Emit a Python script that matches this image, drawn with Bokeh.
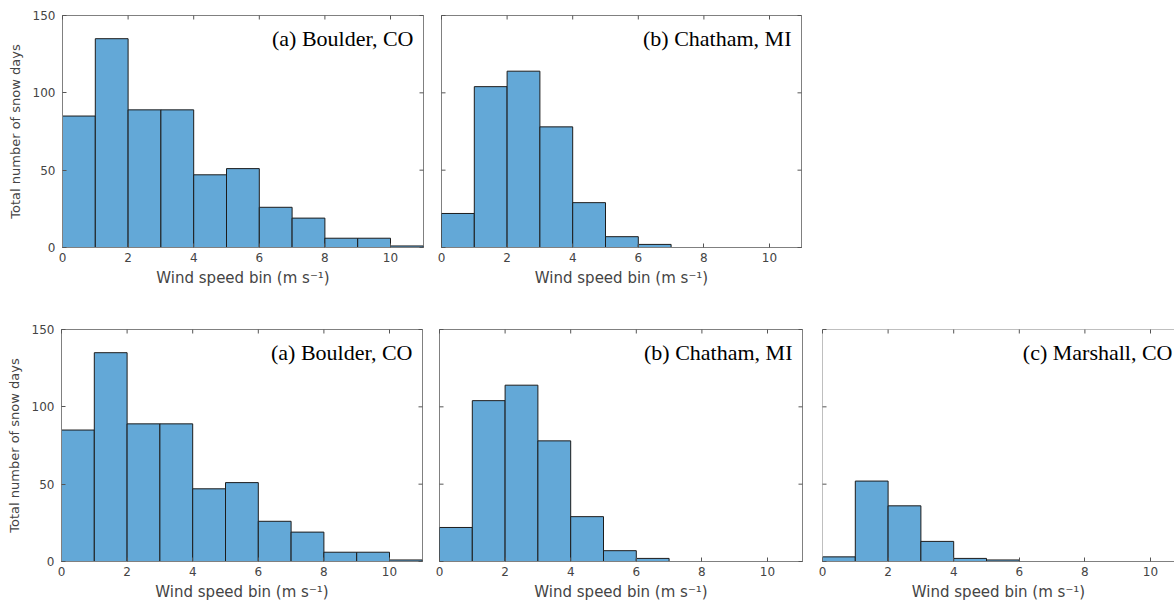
from bokeh.plotting import figure
from bokeh.models import Range1d, LinearAxis, FixedTicker, Label, Span
from bokeh.layouts import column, row
from bokeh.embed import file_html
from bokeh.resources import INLINE

# ---- data ----
bin_left = [0, 1, 2, 3, 4, 5, 6, 7, 8, 9, 10]
bin_width = 1
boulder = [85, 135, 89, 89, 47, 51, 26, 19, 6, 6, 1]
chatham = [22, 104, 114, 78, 29, 7, 2, 0, 0, 0, 0]
marshall = [3, 52, 36, 13, 2, 1, 0, 0, 0, 0, 0]
x_ticks = [0, 2, 4, 6, 8, 10]
y_ticks = [0, 50, 100, 150]
x_label = "Wind speed bin (m s\u207b\u00b9)"
y_label = "Total number of snow days"

FILL = "#63a8d7"
EDGE = "#1c1c1c"
BOX = "#808080"
TICK = "#555555"
TXT = "#444444"
TICK_PX = 4
PX_PER_UNIT = 32.8
Y_MAX = 150


def style_axis(ax, ticks):
    ax.ticker = FixedTicker(ticks=ticks)
    ax.major_tick_in = TICK_PX
    ax.major_tick_out = 0
    ax.minor_tick_line_color = None
    ax.major_tick_line_color = TICK
    ax.axis_line_color = BOX
    ax.major_label_text_color = TXT
    ax.major_label_text_font = "DejaVu Sans"
    ax.major_label_text_font_size = "12px"
    ax.major_label_text_font_style = "normal"
    ax.axis_label_text_font = "DejaVu Sans"
    ax.axis_label_text_font_style = "normal"
    ax.axis_label_text_color = TXT


def panel(counts, title, fw, fh, bl, br, bt, bb, show_ylab, right_box=True, title_right_px=10):
    x_end = fw / PX_PER_UNIT
    p = figure(output_backend="svg", toolbar_location=None,
               frame_width=fw, frame_height=fh,
               min_border_left=bl, min_border_right=br,
               min_border_top=bt, min_border_bottom=bb,
               x_range=Range1d(0, x_end), y_range=Range1d(0, Y_MAX),
               x_axis_location=None, y_axis_location=None)
    p.xgrid.visible = False
    p.ygrid.visible = False
    p.background_fill_color = "white"
    p.border_fill_color = "white"
    p.outline_line_color = BOX if right_box else None

    rights = [b + bin_width for b in bin_left]
    p.quad(left=bin_left, right=rights, bottom=0, top=counts,
           fill_color=FILL, line_color=EDGE, line_width=1)

    xb = LinearAxis()
    style_axis(xb, x_ticks)
    xb.axis_label = x_label
    xb.axis_label_text_font_size = "15px"
    xb.axis_label_standoff = 4
    xb.major_label_standoff = 5
    p.add_layout(xb, "below")

    ty = TICK_PX * Y_MAX / fh          # inward tick length in y data units
    tx = TICK_PX * x_end / fw          # inward tick length in x data units

    # top ticks
    p.segment(x0=x_ticks, y0=[Y_MAX] * len(x_ticks), x1=x_ticks,
              y1=[Y_MAX - ty] * len(x_ticks), line_color=TICK, line_width=1, level="overlay")

    if show_ylab:
        yl = LinearAxis()
        style_axis(yl, y_ticks)
        yl.axis_label = y_label
        yl.axis_label_text_font_size = "13px"
        yl.axis_label_standoff = 7
        yl.major_label_standoff = 7
        p.add_layout(yl, "left")
    else:
        p.segment(x0=[0] * len(y_ticks), y0=y_ticks, x1=[tx] * len(y_ticks), y1=y_ticks,
                  line_color=TICK, line_width=1, level="overlay")

    if right_box:
        p.segment(x0=[x_end] * len(y_ticks), y0=y_ticks, x1=[x_end - tx] * len(y_ticks),
                  y1=y_ticks, line_color=TICK, line_width=1, level="overlay")
    else:
        p.add_layout(Span(location=0, dimension="height", line_color=BOX, line_width=1))
        p.add_layout(Span(location=Y_MAX, dimension="width", line_color=BOX, line_width=1))

    p.add_layout(Label(x=x_end - title_right_px / PX_PER_UNIT, y=143.5, text=title,
                       text_align="right", text_baseline="top",
                       text_font="Liberation Serif", text_font_size="22px",
                       text_color="black"))
    return p


a1 = panel(boulder, "(a) Boulder, CO", 361, 232, 62, 8, 15, 46, True)
b1 = panel(chatham, "(b) Chatham, MI", 360, 232, 10, 10, 15, 46, False)
a2 = panel(boulder, "(a) Boulder, CO", 361, 232, 61, 8, 36, 41, True)
b2 = panel(chatham, "(b) Chatham, MI", 363, 232, 9, 8, 36, 41, False)
c2 = panel(marshall, "(c) Marshall, CO", 352, 232, 12, 0, 36, 41, False,
           right_box=False, title_right_px=2)

layout = column(row(a1, b1), row(a2, b2, c2))
open("out.html", "w").write(file_html(layout, INLINE))
